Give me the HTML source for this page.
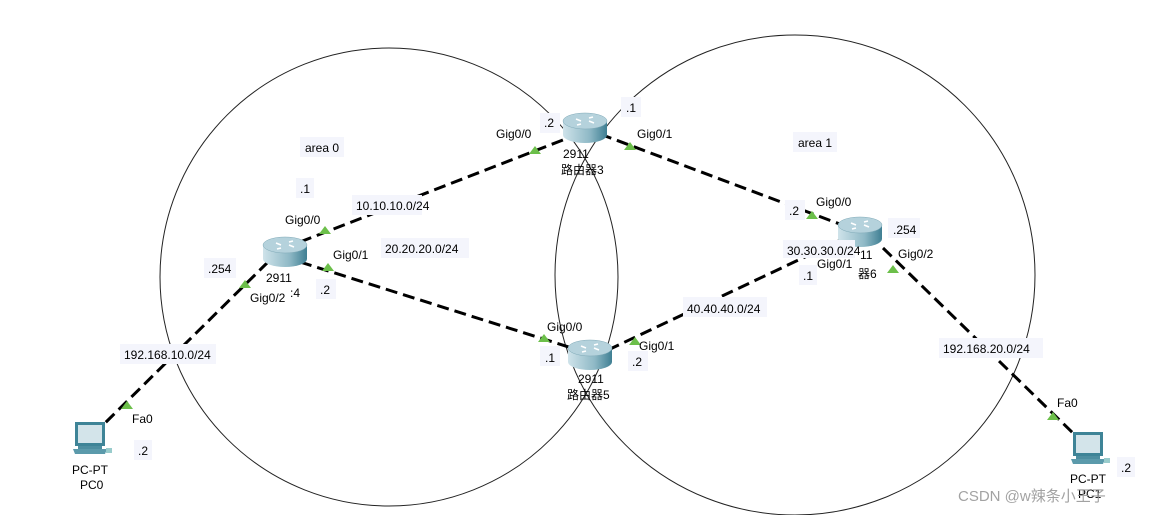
<!DOCTYPE html>
<html><head><meta charset="utf-8"><style>
html,body{margin:0;padding:0;background:#fff;}
svg{display:block;font-family:"Liberation Sans","Noto Sans CJK SC",sans-serif;font-size:12px;}
.lb{fill:#f4f5fc;}
</style></head><body>
<svg width="1159" height="515" viewBox="0 0 1159 515" xmlns="http://www.w3.org/2000/svg">
<defs>
<linearGradient id="rg" x1="0" x2="1" y1="0" y2="0">
<stop offset="0" stop-color="#cfe3ea"/><stop offset="0.6" stop-color="#8fb9c6"/><stop offset="1" stop-color="#3f7f93"/>
</linearGradient>
<g id="router">
<path d="M-22,-6 L-22,8 A22,8 0 0 0 22,8 L22,-6 Z" fill="url(#rg)"/>
<ellipse cx="0" cy="-6" rx="22" ry="8" fill="#b5d2dc" stroke="#7fa9b7" stroke-width="0.5"/>
<path d="M-9,-8 l5,2 M9,-4 l-5,-2 M4,-9 l4,-1 M-4,-3 l-4,1" stroke="#fff" stroke-width="1.5"/>
</g>
<g id="pc">
<rect x="-15" y="-18" width="30" height="24" fill="#3e8497"/>
<rect x="-12" y="-15" width="24" height="18" fill="#d3e4ea"/>
<rect x="-12" y="6" width="24" height="3" fill="#4d8ea0"/>
<path d="M-17,9 h34 l-2,5 h-30z" fill="#5b9aab"/>
<rect x="16" y="8" width="6" height="5" fill="#9cc" />
</g>
</defs>
<circle cx="389" cy="277" r="229" fill="none" stroke="#222" stroke-width="1"/>
<circle cx="795" cy="275" r="240" fill="none" stroke="#222" stroke-width="1"/>
<g stroke="#000" stroke-width="3" stroke-dasharray="12,6" fill="none">
<line x1="300" y1="242" x2="568" y2="138"/>
<line x1="600" y1="134" x2="845" y2="226"/>
<line x1="300" y1="262" x2="572" y2="348"/>
<line x1="608" y1="350" x2="845" y2="238"/>
<line x1="883" y1="248" x2="1078" y2="438"/>
<line x1="268" y1="262" x2="100" y2="428"/>
</g>
<g fill="#6cbf4a">
<path d="M535,146 l-6,8 h12z"/><path d="M630,142 l-6,8 h12z"/>
<path d="M812,211 l-6,8 h12z"/><path d="M809,248 l-6,8 h12z"/>
<path d="M893,265 l-6,8 h12z"/><path d="M325,226 l-6,8 h12z"/>
<path d="M328,263 l-6,8 h12z"/><path d="M544,334 l-6,8 h12z"/>
<path d="M635,337 l-6,8 h12z"/><path d="M245,280 l-6,8 h12z"/>
<path d="M127,401 l-6,8 h12z"/><path d="M1053,412 l-6,8 h12z"/>
</g>
<use href="#router" x="585" y="127"/>
<use href="#router" x="285" y="251"/>
<use href="#router" x="590" y="354"/>
<use href="#router" x="860" y="231"/>
<use href="#pc" x="90" y="440"/>
<use href="#pc" x="1088" y="450"/>
<g class="lb">
<rect x="300" y="137" width="44" height="20"/><rect x="296" y="178" width="18" height="20"/>
<rect x="352" y="195" width="70" height="20"/><rect x="381" y="238" width="88" height="20"/>
<rect x="204" y="258" width="32" height="20"/><rect x="316" y="279" width="20" height="20"/>
<rect x="540" y="113" width="20" height="20"/><rect x="621" y="97" width="20" height="20"/>
<rect x="540" y="346" width="20" height="20"/><rect x="628" y="351" width="20" height="20"/>
<rect x="785" y="200" width="20" height="20"/><rect x="888" y="218" width="32" height="20"/>
<rect x="783" y="240" width="72" height="18"/><rect x="799" y="265" width="18" height="20"/>
<rect x="683" y="297" width="84" height="20"/><rect x="120" y="344" width="96" height="20"/>
<rect x="134" y="440" width="18" height="20"/><rect x="939" y="338" width="104" height="20"/>
<rect x="793" y="132" width="44" height="20"/><rect x="1117" y="457" width="18" height="20"/>
</g>
<g fill="#000">
<text x="305" y="152">area 0</text><text x="798" y="147">area 1</text>
<text x="300" y="193">.1</text><text x="356" y="210">10.10.10.0/24</text>
<text x="385" y="253">20.20.20.0/24</text><text x="208" y="273">.254</text>
<text x="320" y="294">.2</text><text x="544" y="127">.2</text><text x="626" y="112">.1</text>
<text x="496" y="138">Gig0/0</text><text x="637" y="138">Gig0/1</text>
<text x="563" y="158">2911</text><text x="561" y="174">路由器3</text>
<text x="285" y="224">Gig0/0</text><text x="333" y="259">Gig0/1</text>
<text x="266" y="282">2911</text><text x="250" y="302">Gig0/2</text><text x="290" y="297">:4</text>
<text x="547" y="331">Gig0/0</text><text x="639" y="350">Gig0/1</text>
<text x="545" y="362">.1</text><text x="632" y="366">.2</text>
<text x="578" y="383">2911</text><text x="567" y="399">路由器5</text>
<text x="816" y="206">Gig0/0</text><text x="789" y="215">.2</text>
<text x="893" y="234">.254</text><text x="898" y="258">Gig0/2</text>
<text x="787" y="255">30.30.30.0/24</text><text x="817" y="268">Gig0/1</text>
<text x="860" y="259">11</text><text x="858" y="278">器6</text><text x="803" y="280">.1</text>
<text x="687" y="313">40.40.40.0/24</text><text x="124" y="359">192.168.10.0/24</text>
<text x="943" y="353">192.168.20.0/24</text>
<text x="132" y="423">Fa0</text><text x="138" y="455">.2</text>
<text x="1057" y="407">Fa0</text><text x="1121" y="472">.2</text>
<text x="72" y="474">PC-PT</text><text x="80" y="489">PC0</text>
<text x="1070" y="483">PC-PT</text><text x="1078" y="498">PC1</text>
</g>
<text x="958" y="501" fill="#999" font-size="15" opacity="0.9">CSDN @w辣条小王子</text>
</svg>
</body></html>
